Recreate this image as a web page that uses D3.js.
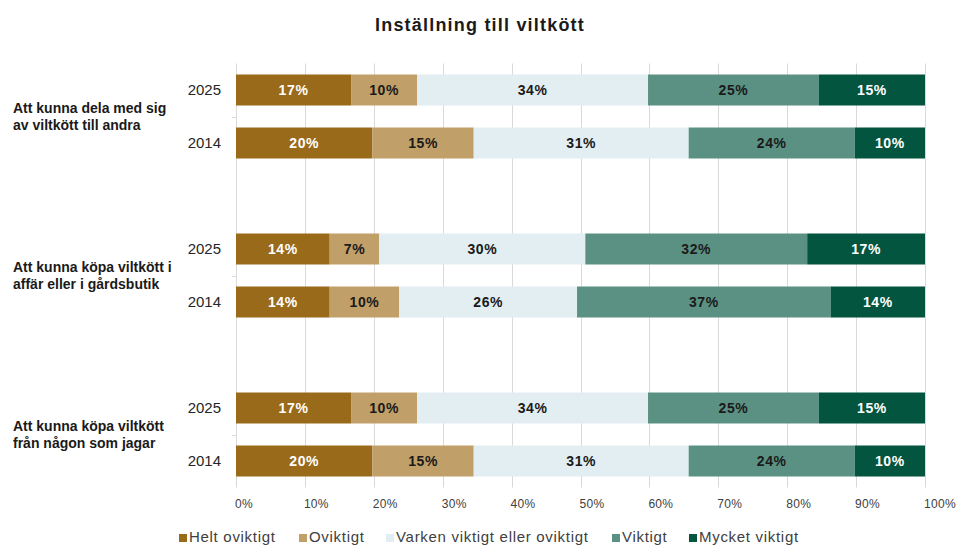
<!DOCTYPE html>
<html>
<head>
<meta charset="utf-8">
<script src="https://cdn.jsdelivr.net/npm/d3@7"></script>
<style>
  html, body { margin: 0; padding: 0; background: #fff; }
  svg { display: block; font-family: "Liberation Sans", Arial, sans-serif; }
</style>
</head>
<body>
<svg id="chart" width="959" height="545"></svg>
<script>
// ---- data ----
const title = "Inställning till viltkött";
const groups = [
  ["Att kunna dela med sig", "av viltkött till andra"],
  ["Att kunna köpa viltkött i", "affär eller i gårdsbutik"],
  ["Att kunna köpa viltkött", "från någon som jagar"]
];
const years = ["2025", "2014"];
const seriesNames = ["Helt oviktigt", "Oviktigt", "Varken viktigt eller oviktigt", "Viktigt", "Mycket viktigt"];
const seriesColors = ["#9a6a1b", "#c19f68", "#e3eef2", "#5a9182", "#03553f"];
const labelColors = ["#ffffff", "#1a1a1a", "#1a1a1a", "#1a1a1a", "#ffffff"];
// values per series, rows in order: g1-2025, g1-2014, g2-2025, g2-2014, g3-2025, g3-2014
const heltOviktigt   = [16.7, 19.8, 13.6, 13.6, 16.7, 19.8];
const oviktigt       = [ 9.6, 14.7,  7.2, 10.1,  9.6, 14.7];
const varken         = [33.5, 31.2, 29.9, 25.8, 33.5, 31.2];
const viktigt        = [24.8, 24.1, 32.2, 36.8, 24.8, 24.1];
const mycketViktigt  = [15.4, 10.2, 17.1, 13.7, 15.4, 10.2];
const xTicks = [0, 10, 20, 30, 40, 50, 60, 70, 80, 90, 100];

// ---- build rows ----
const seriesValues = [heltOviktigt, oviktigt, varken, viktigt, mycketViktigt];
const rows = [];
groups.forEach((g, gi) => years.forEach((y, yi) => rows.push({ group: gi, year: y, key: `g${gi}-${y}` })));
const slots = [];
groups.forEach((g, gi) => {
  years.forEach(y => slots.push(`g${gi}-${y}`));
  if (gi < groups.length - 1) slots.push(`gap${gi}`);
});

const svg = d3.select("#chart");
const x = d3.scaleLinear().domain([0, 100]).range([236, 925]);
const pad = 1 - 31 / 53;
const y = d3.scaleBand().domain(slots).range([63.5, 487.5]).paddingInner(pad).paddingOuter(pad / 2);

// gridlines
svg.append("g").selectAll("line").data(xTicks).join("line")
  .attr("x1", d => Math.round(x(d)) + 0.5).attr("x2", d => Math.round(x(d)) + 0.5)
  .attr("y1", 63.5).attr("y2", 487.5)
  .attr("stroke", "#d9d9d9").attr("stroke-width", 1);

// small category ticks on left axis
svg.append("g").selectAll("line").data(groups.map((g, gi) => gi)).join("line")
  .attr("x1", 232).attr("x2", 236)
  .attr("y1", gi => Math.round((y(`g${gi}-2025`) + y(`g${gi}-2014`) + y.bandwidth()) / 2) + 0.5)
  .attr("y2", gi => Math.round((y(`g${gi}-2025`) + y(`g${gi}-2014`) + y.bandwidth()) / 2) + 0.5)
  .attr("stroke", "#d9d9d9");

// stacked bars
const stackData = rows.map((r, ri) => {
  let acc = 0;
  return seriesValues.map((vals, si) => {
    const v = vals[ri];
    const seg = { row: r, si, x0: acc, x1: acc + v, v };
    acc += v;
    return seg;
  });
}).flat();

svg.append("g").selectAll("rect").data(stackData).join("rect")
  .attr("x", d => x(d.x0))
  .attr("width", d => x(d.x1) - x(d.x0))
  .attr("y", d => y(d.row.key))
  .attr("height", y.bandwidth())
  .attr("fill", d => seriesColors[d.si]);

svg.append("g").selectAll("text").data(stackData).join("text")
  .attr("x", d => (x(d.x0) + x(d.x1)) / 2)
  .attr("y", d => y(d.row.key) + y.bandwidth() / 2)
  .attr("dy", "0.35em")
  .attr("text-anchor", "middle")
  .attr("font-size", 14)
  .attr("font-weight", "bold")
  .attr("letter-spacing", "0.6px")
  .attr("fill", d => labelColors[d.si])
  .text(d => Math.round(d.v) + "%");

// year labels
svg.append("g").selectAll("text").data(rows).join("text")
  .attr("x", 221)
  .attr("y", d => y(d.key) + y.bandwidth() / 2)
  .attr("dy", "0.35em")
  .attr("text-anchor", "end")
  .attr("font-size", 15)
  .attr("fill", "#262626")
  .text(d => d.year);

// group labels
const gl = svg.append("g").selectAll("text").data(groups).join("text")
  .attr("x", 13)
  .attr("font-size", 14)
  .attr("font-weight", "bold")
  .attr("fill", "#1a1a1a");
gl.each(function (lines, gi) {
  const cy = (y(`g${gi}-2025`) + y(`g${gi}-2014`) + y.bandwidth()) / 2;
  d3.select(this).selectAll("tspan").data(lines).join("tspan")
    .attr("x", 13)
    .attr("y", (d, i) => cy + (i - 0.5) * 16.5)
    .attr("dy", "0.35em")
    .text(d => d);
});

// x axis tick labels
svg.append("g").selectAll("text").data(xTicks).join("text")
  .attr("x", d => x(d) - 1)
  .attr("y", 504)
  .attr("dy", "0.35em")
  .attr("text-anchor", "start")
  .attr("font-size", 12)
  .attr("letter-spacing", "0.3px")
  .attr("fill", "#404040")
  .text(d => d + "%");

// title
svg.append("text")
  .attr("x", 480).attr("y", 25).attr("dy", "0.35em")
  .attr("text-anchor", "middle")
  .attr("font-size", 18).attr("font-weight", "bold")
  .attr("letter-spacing", "1.2px")
  .attr("fill", "#1a1a1a")
  .text(title);

// legend
const legendX = [179, 299, 386, 612, 689];
const lg = svg.append("g").selectAll("g").data(seriesNames).join("g")
  .attr("transform", (d, i) => `translate(${legendX[i]},538)`);
lg.append("rect").attr("x", 0).attr("y", -4).attr("width", 8).attr("height", 8)
  .attr("fill", (d, i) => seriesColors[i]);
lg.append("text").attr("x", 10).attr("y", -1).attr("dy", "0.35em")
  .attr("font-size", 15).attr("fill", "#404040")
  .attr("letter-spacing", "0.7px")
  .text(d => d);
</script>
</body>
</html>
